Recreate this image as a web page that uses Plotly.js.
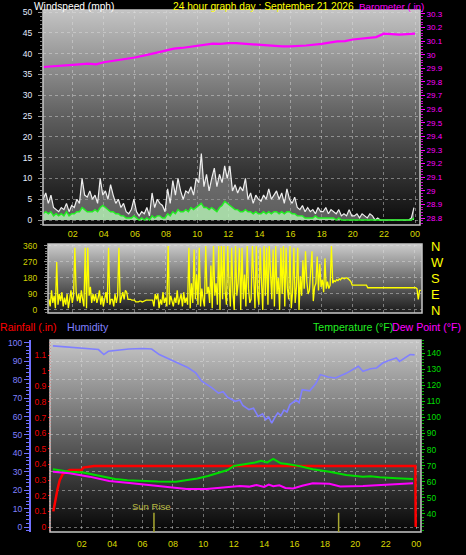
<!DOCTYPE html>
<html>
<head>
<meta charset="utf-8">
<script src="https://cdn.plot.ly/plotly-3.0.1.min.js"></script>
<style>html,body{margin:0;padding:0;background:#000;}#chart{width:466px;height:555px;}</style>
</head>
<body>
<div id="chart"></div>
<script>
// ---------- DATA ----------
const hourTicks = [2,4,6,8,10,12,14,16,18,20,22,24];
const hourLabels = ['02','04','06','08','10','12','14','16','18','20','22','00'];

// wind speed, 10-minute samples starting at 00:06
const windStart = 0.1, windStep = 1/6;
const windGust = [
 5,6.5,4,6,3,2.5, 2,3,2.5,4,2,3.5, 3,5,4,10,6,5.5, 7,5,6,4,10,6,
 7,5,8.5,6,4,5, 3,4,2,1.5,2.5,5, 2,1,2,1.5,3,1, 6.5,3,5,4,3.5,2,
 7.5,4,9.5,6,10,7, 5,7,6.5,8,6,10, 9,16,8,11,7,10, 12.5,8,11,9,13,10,
 13,7,8.5,6.5,8,7, 10,5,6.5,4,6,5, 4.5,6,5,7.5,5,6, 7,5,6.5,4,7.5,5,
 4,5.5,3,2.5,3.5,2, 3,2,2.5,1.5,3,2, 2,3,1.5,2.5,2,1.5, 2.5,1,1.5,1,2.5,1,
 1,1.5,0.5,1.5,1,0.5, 1.5,1,0,0.5,0,0, 0,0,0,0,0,0, 0,0,0,0,0.5,3
];
const windAvg = [
 1.5,2,1.5,2,1,1.5, 1,1.5,1,2,1,1.5, 1.5,2,2,3,2.5,2, 2,2,2.5,2,3,3.5,
 3,2.5,2,2,1.5,1.5, 1,1,0.5,0.5,0.5,1, 0.5,0,0.5,0,0.5,0, 1,0.5,1,1,0.5,0.5,
 1.5,1,2,1.5,2.5,2, 2,2.5,2,3,2.5,3, 3.5,4,3,3,2.5,3, 2.5,2,3,3.5,4.5,4,
 3.5,3,2.5,2.5,2,2, 2.5,2,2,1.5,2,1.5, 1.5,2,1.5,2,1.5,2, 2,1.5,2,1.5,2,2,
 1.5,1.5,1,1,1,0.5, 0.5,0.5,0.5,1,0.5,0.5, 0.5,0.5,0.5,0.5,0.5,0, 0.5,0,0,0,0,0,
 0,0,0,0,0,0, 0,0,0,0,0,0, 0,0,0,0,0,0, 0,0,0,0,0,0.5
];

const baroTimes = [0.1,1,2,3,3.5,4,5,6,7,8,8.5,9,10,11,11.5,12,12.5,13,14,15,15.5,16,17,18,19,19.5,20,21,21.5,22,22.5,23,24];
const baroValues = [29.91,29.915,29.925,29.935,29.93,29.945,29.96,29.98,30.005,30.03,30.045,30.05,30.068,30.082,30.08,30.086,30.085,30.08,30.075,30.065,30.062,30.062,30.068,30.08,30.098,30.1,30.112,30.125,30.13,30.155,30.152,30.148,30.155];

// wind direction, 5-minute samples starting at 00:30
const dirStart = 0.5, dirStep = 1/12;
const windDir = [
 60,20,110,40,80,10,270,30,90,50,100,20,
 70,30,90,10,60,110,40,80,350,100,50,90,
 40,110,60,20,350,10,350,80,130,40,90,50,
 90,40,70,110,30,80,20,60,100,40,350,30,
 60,60,20,90,40,80,350,40,70,100,60,110,
 100,60,60,60,55,55,55,45,45,45,50,50,
 45,50,55,55,55,55,55,55,55,20,90,60,
 90,10,60,30,100,40,70,20,360,30,80,50,
 20,70,40,110,30,60,90,20,100,40,70,30,
 350,10,150,40,340,60,200,30,350,20,120,60,
 20,360,90,130,40,250,10,360,80,150,30,360,
 0,360,60,360,100,30,360,140,20,350,90,0,
 360,80,150,350,0,350,60,200,20,360,120,40,
 60,360,120,10,360,90,30,350,160,0,360,80,
 350,30,360,170,60,340,20,360,90,180,0,350,
 90,360,20,350,120,60,360,10,100,350,40,130,
 350,0,190,80,280,120,330,160,90,110,200,330,
 50,130,150,300,110,260,130,170,100,290,120,160,
 120,140,360,150,165,160,170,165,175,170,180,175,
 175,180,180,175,170,160,140,140,140,140,140,140,
 140,140,140,140,140,140,125,125,125,125,125,125,
 125,125,125,125,125,125,125,125,125,125,125,125,
 125,125,125,125,125,125,125,125,125,125,125,125,
 125,125,125,125,125,125,125,125,120,60,110,110
];
const dirTickVals = [0,90,180,270,360];
const compassLabels = ['N','E','S','W','N'];

const humTimes = [0.1,1,2.1,3.1,3.45,3.75,4.5,5.1,6,6.6,7.1,7.7,8.4,9,9.5,9.9,10.5,11,11.3,11.6,12.1,12.4,12.6,13,13.3,13.6,13.9,14.1,14.3,14.5,14.7,14.9,15.1,15.3,15.5,15.7,16.1,16.3,16.5,17,17.4,17.7,18.2,18.7,19.4,20.2,20.5,21,21.4,21.8,22.2,22.7,22.9,23.3,23.6,23.9];
const humValues = [98.4,97.8,97,96.4,93.7,95.5,96.2,96.7,97,96.7,93.7,91.5,89.1,86.5,83.7,79.2,76,72.8,73.5,70.5,68.3,69,66,63.8,64.5,60.1,61.5,58.3,59.8,56.5,59.5,62,60.5,63.5,62.5,66.5,69,67.5,74.6,74,78,82.8,81.5,81,83.5,87.3,84.6,86,86.4,89.1,90.5,91.8,90,92,93.7,93.5];

const rainTimes = [0.13,0.25,0.4,0.55,0.75,1.2,2.0,2.1,2.8,23.95,23.97];
const rainValues = [0.1,0.17,0.24,0.3,0.34,0.365,0.365,0.38,0.39,0.39,0];

const tempTimes = [0.1,1.2,2.1,3.2,4.2,5,5.9,7,8.2,9,9.6,10.3,11.2,11.6,12,12.5,12.9,13.4,13.8,14.2,14.6,14.8,15.1,15.5,16.3,17.2,17.8,18.3,19.4,20.5,21,21.6,22.7,23.8];
const tempValues = [67.8,66.3,65.7,63.6,61.7,61,60.5,60.2,60,61.1,62,63.6,66.3,67.3,69.8,70.5,71.5,72,73.1,72,74.2,73,71.5,71,69.8,67.8,67,66.3,64.2,63.2,63.5,62.8,62.2,61.7];

const dewTimes = [0.1,1.2,2.5,3.8,5.3,6.7,7.6,8.9,10.2,11,11.5,12.4,13,13.5,14,14.3,14.6,15,15.4,15.9,16.5,17.2,18.3,19,20.5,21.5,22.5,23.8];
const dewValues = [66.3,65.3,63.2,60.5,59.1,57.6,56.6,55.5,55.5,56.3,56.8,57.4,57,58,56.8,58.2,57.2,57.8,56.2,55.9,57.5,59.1,58.8,57.1,57.4,58,58.2,59.1];

const sunTimes = [6.75, 18.9];
const sunLabel = 'Sun Rise';

// ---------- LAYOUT HELPERS ----------
const W = 466, H = 555;
const px = v => v / W;
const py = v => (H - v) / H;
const TICKFONT = 'Liberation Sans Narrow, Liberation Sans, Arial, sans-serif';
const HEADFONT = 'Liberation Sans, Arial, sans-serif';

function grad(top, mid, bot) {
  const svg = "<svg xmlns='http://www.w3.org/2000/svg' width='10' height='100' preserveAspectRatio='none'>" +
    "<defs><linearGradient id='g' x1='0' y1='0' x2='0' y2='1'>" +
    "<stop offset='0' stop-color='" + top + "'/><stop offset='0.5' stop-color='" + mid + "'/><stop offset='1' stop-color='" + bot + "'/>" +
    "</linearGradient></defs><rect width='10' height='100' fill='url(#g)'/></svg>";
  return 'data:image/svg+xml;charset=utf-8,' + encodeURIComponent(svg);
}
function panelImage(l, t, r, b, c1, c2, c3) {
  return {source: grad(c1, c2, c3), xref: 'paper', yref: 'paper', x: px(l), y: py(t),
    sizex: (r - l) / W, sizey: (b - t) / H, sizing: 'stretch', xanchor: 'left', yanchor: 'top', layer: 'below'};
}

const gridCol = 'rgba(225,225,225,0.45)';
const xLabelFont = {family: TICKFONT, size: 9, color: '#d8d800'};

const gustTimes = windGust.map((_, i) => windStart + i * windStep);
const avgTimes = windAvg.map((_, i) => windStart + i * windStep);
const dirTimes = windDir.map((_, i) => dirStart + i * dirStep);

const traces = [
  {x: gustTimes, y: windGust, xaxis: 'x', yaxis: 'y', type: 'scatter', mode: 'lines',
   line: {color: '#eeeeee', width: 1.2}, fill: 'tozeroy', fillcolor: 'rgba(160,160,160,0.55)'},
  {x: avgTimes, y: windAvg, xaxis: 'x', yaxis: 'y', type: 'scatter', mode: 'lines',
   line: {color: '#22ee22', width: 1.4}, fill: 'tozeroy', fillcolor: 'rgba(190,255,190,0.75)'},
  {x: baroTimes, y: baroValues, xaxis: 'x', yaxis: 'y2', type: 'scatter', mode: 'lines',
   line: {color: '#ff00ff', width: 2.2}},
  {x: dirTimes, y: windDir, xaxis: 'x2', yaxis: 'y3', type: 'scatter', mode: 'lines',
   line: {color: '#ffff00', width: 1.3}},
  {x: [0], y: [0], xaxis: 'x2', yaxis: 'y4', type: 'scatter', mode: 'markers', marker: {opacity: 0}},
  {x: humTimes, y: humValues, xaxis: 'x3', yaxis: 'y5', type: 'scatter', mode: 'lines',
   line: {color: '#8080ff', width: 1.6}},
  {x: tempTimes, y: tempValues, xaxis: 'x3', yaxis: 'y7', type: 'scatter', mode: 'lines',
   line: {color: '#00dd00', width: 2}},
  {x: dewTimes, y: dewValues, xaxis: 'x3', yaxis: 'y7', type: 'scatter', mode: 'lines',
   line: {color: '#ff00ff', width: 2}},
  {x: rainTimes, y: rainValues, xaxis: 'x3', yaxis: 'y6', type: 'scatter', mode: 'lines',
   line: {color: '#ff0000', width: 2.5}}
];

const shapes = [
  {type: 'rect', xref: 'x domain', yref: 'y domain', x0: 0, x1: 1, y0: 0, y1: 1, line: {color: '#c8c8c8', width: 1.5}},
  {type: 'rect', xref: 'x2 domain', yref: 'y3 domain', x0: 0, x1: 1, y0: 0, y1: 1, line: {color: '#c8c8c8', width: 1.5}},
  {type: 'rect', xref: 'x3 domain', yref: 'y5 domain', x0: 0, x1: 1, y0: 0, y1: 1, line: {color: '#c8c8c8', width: 1.5}}
];
sunTimes.forEach(t => shapes.push({type: 'line', xref: 'x3', yref: 'y5 domain', x0: t, x1: t, y0: 0, y1: 0.1,
  line: {color: '#a8a830', width: 1.5}}));

function head(text, x, y, color, size) {
  return {text: text, xref: 'paper', yref: 'paper', x: px(x), y: py(y), xanchor: 'left', yanchor: 'middle',
    showarrow: false, borderpad: 0, font: {family: HEADFONT, size: size || 10.6, color: color}};
}
const annotations = [
  head('Windspeed (mph)', 33, 6.8, '#ffffff', 10.2),
  head('24 hour graph day : September 21 2026', 172, 6.8, '#ffff00', 10.2),
  head('Barometer (.in)', 358, 6.8, '#ff00ff', 9.8),
  head('Rainfall (.in)', -1, 327, '#ff0000'),
  head('Humidity', 66, 327, '#8080ff'),
  head('Temperature (°F)', 312, 327, '#22ee22'),
  head('Dew Point (°F)', 391, 327, '#ff00ff'),
  {text: sunLabel, xref: 'x3', yref: 'y5 domain', x: sunTimes[0], y: 0.1, xanchor: 'center', yanchor: 'bottom',
   xshift: -2, showarrow: false, borderpad: 0, font: {family: HEADFONT, size: 9.5, color: '#b8b840'}}
];

const layout = {
  width: W, height: H, margin: {l: 0, r: 0, t: 0, b: 0}, autosize: false,
  paper_bgcolor: '#000', plot_bgcolor: 'rgba(0,0,0,0)', showlegend: false, hovermode: false,
  images: [
    panelImage(43, 10, 420, 225, '#c4c4c4', '#5e5e5e', '#0a0a0a'),
    panelImage(48, 244, 422, 313, '#cccccc', '#707070', '#1a1a1a'),
    panelImage(50, 340, 421, 532, '#c6c6c6', '#626262', '#060606')
  ],
  // top panel
  xaxis: {domain: [px(43), px(420)], range: [0.09, 24.32], anchor: 'y', tickvals: hourTicks, ticktext: hourLabels,
    showgrid: true, gridcolor: gridCol, griddash: 'dot', gridwidth: 1, zeroline: false, ticks: '', tickfont: xLabelFont,
    ticklabelstandoff: 2, showline: false},
  yaxis: {domain: [py(225), py(10)], range: [-1.2, 50.5], anchor: 'x', dtick: 5, tick0: 0, showgrid: true,
    gridcolor: gridCol, griddash: 'dot', zeroline: false, ticks: 'outside', ticklen: 4, tickcolor: '#909090',
    minor: {ticks: 'outside', dtick: 1, ticklen: 2, tickcolor: '#808080'},
    ticklabelstandoff: 4, tickfont: {family: TICKFONT, size: 8.5, color: '#e4ecff'}},
  yaxis2: {overlaying: 'y', side: 'right', anchor: 'x', range: [28.749, 30.329], dtick: 0.1, tick0: 28.8,
    showgrid: false, zeroline: false, ticks: 'outside', ticklen: 4, tickcolor: '#ff00ff',
    minor: {ticks: 'outside', dtick: 0.02, ticklen: 2, tickcolor: '#cc00cc'},
    tickfont: {family: TICKFONT, size: 8, color: '#ff00ff'}},
  // middle panel
  xaxis2: {domain: [px(48), px(422)], range: [0.44, 24.49], anchor: 'y3', tickvals: hourTicks, showticklabels: false,
    showgrid: true, gridcolor: gridCol, griddash: 'dot', zeroline: false, ticks: ''},
  yaxis3: {domain: [py(313), py(244)], range: [-17, 371], anchor: 'x2', tickvals: dirTickVals, showgrid: true,
    gridcolor: gridCol, griddash: 'dot', zeroline: false, ticks: 'outside', ticklen: 3, tickcolor: '#909090',
    minor: {ticks: 'outside', dtick: 15, ticklen: 2, tickcolor: '#808080'},
    ticklabelstandoff: 5, tickfont: {family: TICKFONT, size: 8.5, color: '#d0d000'}},
  yaxis4: {overlaying: 'y3', side: 'right', anchor: 'free', position: px(430), range: [-17, 371],
    tickvals: dirTickVals, ticktext: compassLabels, showgrid: false, zeroline: false, ticks: '',
    tickfont: {family: HEADFONT, size: 13, color: '#ffff00'}},
  // bottom panel
  xaxis3: {domain: [px(50), px(421)], range: [-0.09, 24.32], anchor: 'y5', tickvals: hourTicks, ticktext: hourLabels,
    showgrid: true, gridcolor: gridCol, griddash: 'dot', zeroline: false, ticks: '', tickfont: xLabelFont,
    ticklabelstandoff: 5},
  yaxis5: {domain: [py(532), py(340)], range: [-2.7, 101.6], anchor: 'free', position: px(30), side: 'left',
    dtick: 10, tick0: 0, showgrid: true, gridcolor: gridCol, griddash: 'dot', zeroline: false,
    showline: true, linecolor: '#7070ff', linewidth: 2, ticks: 'outside', ticklen: 5, tickcolor: '#7070ff',
    minor: {ticks: 'outside', dtick: 2, ticklen: 3, tickcolor: '#7070ff'},
    tickfont: {family: TICKFONT, size: 8.5, color: '#8080ff'}},
  yaxis6: {overlaying: 'y5', anchor: 'free', position: px(51), side: 'left', range: [-0.032, 1.196],
    dtick: 0.1, tick0: 0, showgrid: false, zeroline: false, ticks: 'outside', ticklen: 3, tickcolor: '#ff0000',
    minor: {ticks: 'outside', dtick: 0.02, ticklen: 2, tickcolor: '#dd0000'},
    tickfont: {family: TICKFONT, size: 8.5, color: '#ee0000'}},
  yaxis7: {overlaying: 'y5', anchor: 'free', position: px(421), side: 'right', range: [28.8, 148.1],
    tickvals: [40,50,60,70,80,90,100,110,120,130,140], showgrid: false, zeroline: false,
    ticks: 'outside', ticklen: 3, tickcolor: '#00cc00',
    minor: {ticks: 'outside', dtick: 2, ticklen: 2, tickcolor: '#00aa00'},
    tickfont: {family: TICKFONT, size: 8.5, color: '#00dd00'}},
  shapes: shapes,
  annotations: annotations
};

Plotly.newPlot('chart', traces, layout, {staticPlot: true, displayModeBar: false});
</script>
</body>
</html>
